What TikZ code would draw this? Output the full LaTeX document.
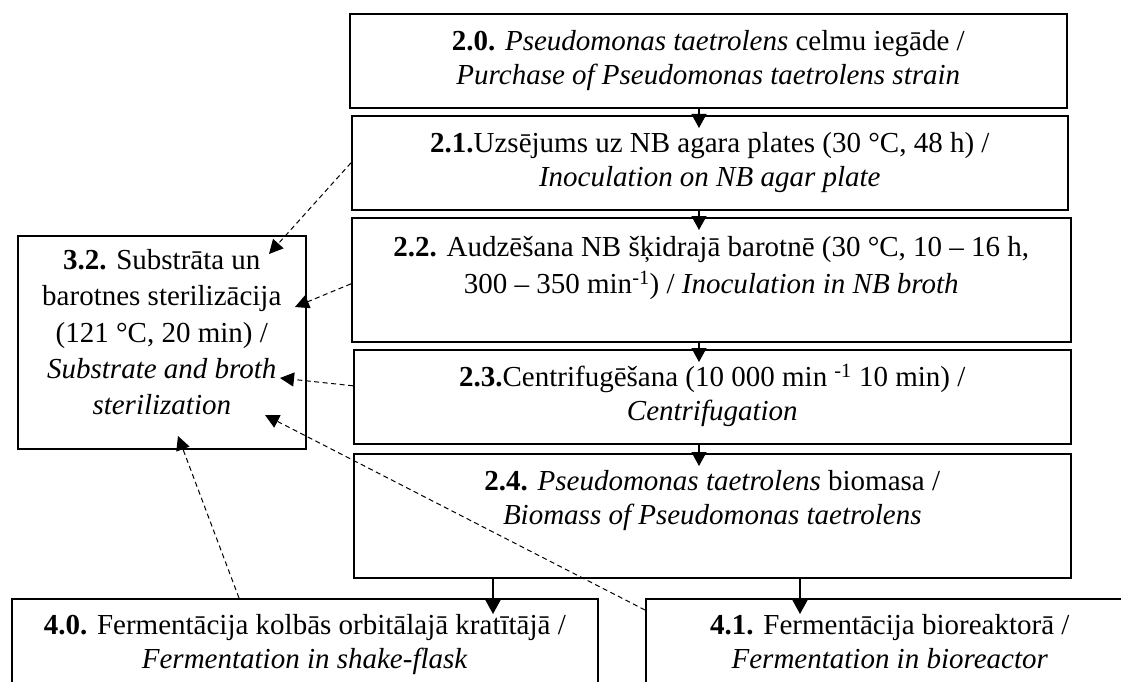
\documentclass[tikz,border=0pt]{standalone}
\usepackage{fontspec}
\setmainfont{Liberation Serif}
\usetikzlibrary{arrows.meta,calc}
\begin{document}
\begin{tikzpicture}[x=1pt,y=-1pt,
  box/.style={draw=black, line width=1.6pt, anchor=north west, inner sep=0pt},
  txt/.style={align=center, inner sep=0pt, anchor=north, font=\fontsize{29}{34.5}\selectfont},
  flow/.style={line width=1.3pt, -{Triangle[width=15pt,length=14pt]}},
  back/.style={line width=1pt, dash pattern=on 5pt off 3.5pt, -{Triangle[width=14pt,length=14pt]}},
]
\useasboundingbox (0,0) rectangle (1121,682);
\clip (0,0) rectangle (1121,682);

% process boxes
\node[box, minimum width=717pt, minimum height=94pt]  (b20) at (349,13)  {};
\node[box, minimum width=716pt, minimum height=94pt]  (b21) at (351,115) {};
\node[box, minimum width=719pt, minimum height=124pt] (b22) at (351,217) {};
\node[box, minimum width=717pt, minimum height=94pt]  (b23) at (353,349) {};
\node[box, minimum width=717pt, minimum height=124pt] (b24) at (353,453) {};
\node[box, minimum width=288pt, minimum height=213pt] (b32) at (17,235)  {};
\node[box, minimum width=586pt, minimum height=110pt] (b40) at (11,598)  {};
\node[box, minimum width=488pt, minimum height=110pt] (b41) at (645,598) {};

% box texts
\node[txt] (t20) at ($(b20.north)+(0,12.85)$)
  {\strut\textbf{2.0.} \textit{Pseudomonas taetrolens} celmu iegāde /\\
   \strut\textit{Purchase of Pseudomonas taetrolens strain}};
\node[txt] (t21) at ($(b21.north)+(0,12.85)$)
  {\strut\textbf{2.1.}Uzsējums uz NB agara plates (30 °C, 48 h) /\\
   \strut\textit{Inoculation on NB agar plate}};
\node[txt, font=\fontsize{29}{37}\selectfont] (t22) at ($(b22.north)+(0,13)$)
  {\strut\textbf{2.2.} Audzēšana NB šķidrajā barotnē (30 °C, 10 – 16 h,\\
   \strut 300 – 350 min\textsuperscript{-1}) / \textit{Inoculation in NB broth}};
\node[txt] (t23) at ($(b23.north)+(0,12.85)$)
  {\strut\textbf{2.3.}Centrifugēšana (10 000 min \textsuperscript{-1} 10 min) /\\
   \strut\textit{Centrifugation}};
\node[txt] (t24) at ($(b24.north)+(0,12.85)$)
  {\strut\textbf{2.4.} \textit{Pseudomonas taetrolens} biomasa /\\
   \strut\textit{Biomass of Pseudomonas taetrolens}};
\node[txt, font=\fontsize{29}{36.25}\selectfont] (t32) at ($(b32.north)+(0,9)$)
  {\strut\textbf{3.2.} Substrāta un\\
   \strut barotnes sterilizācija\\
   \strut (121 °C, 20 min) /\\
   \strut\textit{Substrate and broth}\\
   \strut\textit{sterilization}};
\node[txt] (t40) at ($(b40.north)+(0,12)$)
  {\strut\textbf{4.0.} Fermentācija kolbās orbitālajā kratītājā /\\
   \strut\textit{Fermentation in shake-flask}};
\node[txt] (t41) at ($(b41.north)+(0,12)$)
  {\strut\textbf{4.1.} Fermentācija bioreaktorā /\\
   \strut\textit{Fermentation in bioreactor}};

% main flow
\coordinate (colx) at (699,0);
\coordinate (leftx) at (493,0);
\coordinate (rightx) at (800,0);
\draw[flow] (b20.south -| colx) -- ($(b21.north -| colx)+(0,13)$);
\draw[flow] (b21.south -| colx) -- ($(b22.north -| colx)+(0,13)$);
\draw[flow] (b22.south -| colx) -- ($(b23.north -| colx)+(0,13)$);
\draw[flow] (b23.south -| colx) -- ($(b24.north -| colx)+(0,13)$);
\draw[flow] (b24.south -| leftx) -- ($(b40.north -| leftx)+(0,16)$);
\draw[flow] (b24.south -| rightx) -- ($(b41.north -| rightx)+(0,16)$);

% dashed links into the sterilization step
\coordinate (h1) at (269,254);
\coordinate (h2) at (295,307);
\coordinate (h3) at (280,378);
\coordinate (h4) at (265,415);
\coordinate (h5) at (178,436);
\draw[back] (b21.west) -- (h1);
\draw[back] ([yshift=-4pt]b22.west) -- (h2);
\draw[back] ([yshift=11pt]b23.west) -- (h3);
\draw[back] ([yshift=-12pt]b41.north west) -- (h4);
\draw[back] ([xshift=228pt]b40.north west) -- (h5);
\end{tikzpicture}
\end{document}
